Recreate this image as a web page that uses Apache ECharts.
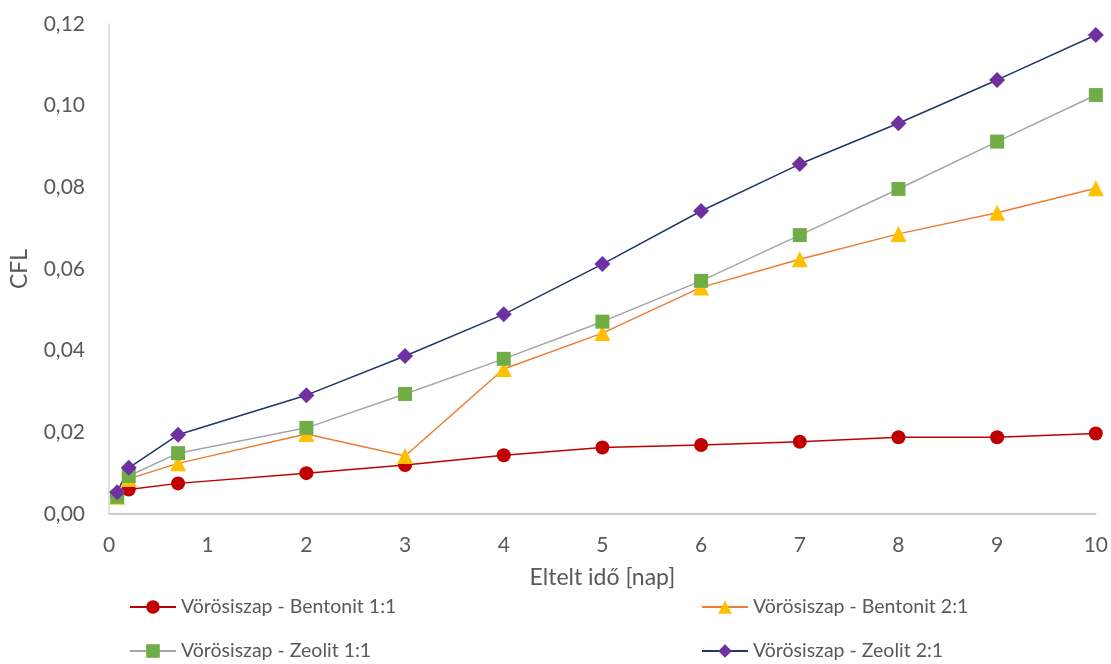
<!DOCTYPE html>
<html>
<head>
<meta charset="utf-8">
<script src="https://cdn.jsdelivr.net/npm/echarts@6/dist/echarts.min.js"></script>
<style>
  html, body { margin: 0; padding: 0; background: #fff; }
  #chart { width: 1111px; height: 664px; }
</style>
</head>
<body>
<div id="chart"></div>
<script>
// Elapsed time in days
const days = [0.083, 0.2, 0.7, 2, 3, 4, 5, 6, 7, 8, 9, 10];

// CFL values per mixture
const bentonit11 = [0.0045, 0.0060, 0.0075, 0.0100, 0.0120, 0.0144, 0.0163, 0.0169, 0.0177, 0.0188, 0.0188, 0.0197];
const bentonit21 = [0.0042, 0.0086, 0.0124, 0.0196, 0.0142, 0.0355, 0.0443, 0.0555, 0.0624, 0.0686, 0.0738, 0.0798];
const zeolit11   = [0.0042, 0.0093, 0.0149, 0.0211, 0.0294, 0.0380, 0.0471, 0.0571, 0.0683, 0.0796, 0.0912, 0.1026];
const zeolit21   = [0.0053, 0.0113, 0.0194, 0.0291, 0.0387, 0.0489, 0.0612, 0.0742, 0.0857, 0.0957, 0.1063, 0.1173];

const seriesNames = [
  'Vörösiszap - Bentonit 1:1',
  'Vörösiszap - Bentonit 2:1',
  'Vörösiszap - Zeolit 1:1',
  'Vörösiszap - Zeolit 2:1'
];

const xTicks = { min: 0, max: 10, interval: 1 };
const yTicks = { min: 0, max: 0.12, interval: 0.02 };

const FONT = 'Lato';
const TEXT = '#595959';

function pairs(vals) { return days.map((d, i) => [d, vals[i]]); }

function lineSeries(name, vals, lineColor, markColor, symbol, size) {
  return {
    name: name,
    type: 'line',
    data: pairs(vals),
    symbol: symbol,
    symbolSize: size,
    showAllSymbol: true,
    lineStyle: { color: lineColor, width: 1.5 },
    itemStyle: { color: markColor, borderWidth: 0 },
    emphasis: { disabled: true },
    animation: false
  };
}

function legendAt(name, left, top) {
  return {
    data: [name],
    left: left, top: top,
    itemWidth: 46, itemHeight: 17,
    itemGap: 0,
    textStyle: { fontFamily: FONT, fontSize: 19.5, color: TEXT },
    selectedMode: false
  };
}

const chart = echarts.init(document.getElementById('chart'), null, { renderer: 'canvas' });
chart.setOption({
  backgroundColor: '#ffffff',
  animation: false,
  grid: { left: 109, right: 14, top: 24, bottom: 150, containLabel: false },
  xAxis: {
    type: 'value',
    min: xTicks.min, max: xTicks.max, interval: xTicks.interval,
    name: 'Eltelt idő [nap]',
    nameLocation: 'middle',
    nameGap: 52,
    nameTextStyle: { fontFamily: FONT, fontSize: 23, color: TEXT },
    axisLine: { show: true, lineStyle: { color: '#bfbfbf', width: 1.5 } },
    axisTick: { show: false },
    splitLine: { show: false },
    axisLabel: { fontFamily: FONT, fontSize: 21, color: TEXT, margin: 21 }
  },
  yAxis: {
    type: 'value',
    min: yTicks.min, max: yTicks.max, interval: yTicks.interval,
    name: 'CFL',
    nameLocation: 'middle',
    nameGap: 78,
    nameRotate: 90,
    nameTextStyle: { fontFamily: FONT, fontSize: 23, color: TEXT },
    axisLine: { show: true, lineStyle: { color: '#d9d9d9', width: 1.5 } },
    axisTick: { show: false },
    splitLine: { show: false },
    axisLabel: {
      fontFamily: FONT, fontSize: 21, color: TEXT, margin: 24,
      formatter: v => v.toFixed(2).replace('.', ',')
    }
  },
  legend: [
    legendAt(seriesNames[0], 124, 592),
    legendAt(seriesNames[1], 696, 592),
    legendAt(seriesNames[2], 124, 636),
    legendAt(seriesNames[3], 696, 636)
  ],
  series: [
    lineSeries(seriesNames[0], bentonit11, '#C00000', '#C00000', 'circle', 14),
    lineSeries(seriesNames[1], bentonit21, '#ED7D31', '#FFC000', 'triangle', 16),
    lineSeries(seriesNames[2], zeolit11, '#A5A5A5', '#70AD47', 'rect', 14),
    lineSeries(seriesNames[3], zeolit21, '#203864', '#7030A0', 'diamond', 16)
  ]
});
</script>
</body>
</html>
